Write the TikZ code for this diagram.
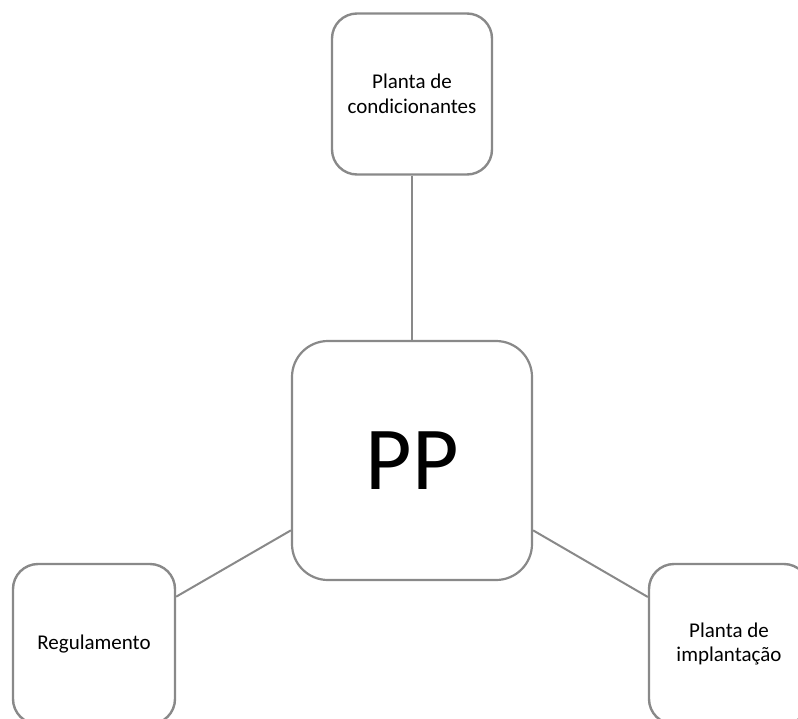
\documentclass[tikz,border=0pt]{standalone}
\usepackage{fontspec}
\setmainfont{Carlito}
\definecolor{boxgray}{RGB}{137,137,137}
\definecolor{linegray}{RGB}{137,137,137}
\begin{document}
\begin{tikzpicture}[x=1pt,y=-1pt,
  smallbox/.style={draw=boxgray, line width=2.4pt, rounded corners=25pt, fill=white,
    minimum width=160pt, minimum height=160pt, align=center, inner sep=0pt,
    font=\fontsize{21}{24.5}\selectfont},
  bigbox/.style={draw=boxgray, line width=2.2pt, rounded corners=36pt, fill=white,
    minimum width=240pt, minimum height=239pt, inner sep=0pt,
    font=\fontsize{90}{100}\selectfont},
  link/.style={draw=linegray, line width=2pt}]
\useasboundingbox (0,0) rectangle (798,718);
\clip (0,0) rectangle (798,718);
\node[smallbox, minimum height=161pt] (top) at (412,94) {Planta de\\condicionantes};
\node[bigbox] (pp) at (412,460.5) {PP};
\node[smallbox, minimum width=162pt] (reg) at (94,644) {Regulamento};
\node[smallbox] (imp) at (729,644) {Planta de\\implantação};
\draw[link] (top) -- (pp);
\draw[link] (reg) -- (pp);
\draw[link] (imp) -- (pp);
\end{tikzpicture}
\end{document}
